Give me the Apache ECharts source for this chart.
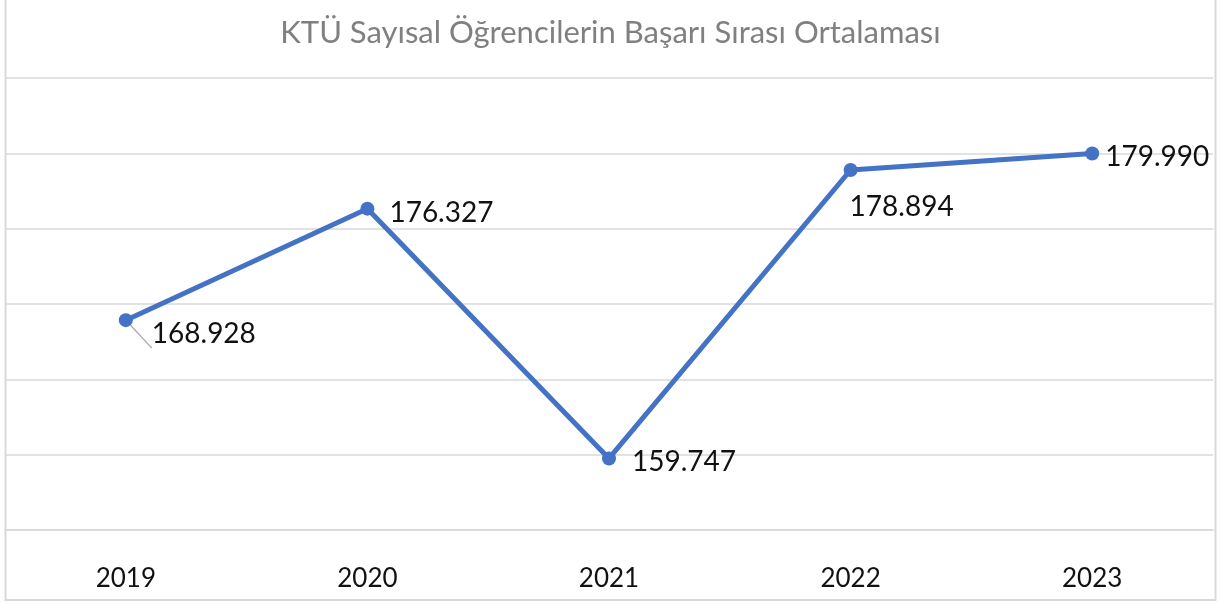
<!DOCTYPE html>
<html><head><meta charset="utf-8">
<script src="https://cdn.jsdelivr.net/npm/echarts@6/dist/echarts.min.js"></script>
<style>html,body{margin:0;padding:0;background:#fff}#c{width:1221px;height:604px}</style>
</head><body><div id="c"></div>
<script>
const titleText = 'KTÜ Sayısal Öğrencilerin Başarı Sırası Ortalaması';
const years = ['2019', '2020', '2021', '2022', '2023'];
const ranks = [168928, 176327, 159747, 178894, 179990];
const yMin = 155000, yMax = 185000, yStep = 5000;

const labelOffsets = [[11, 14], [7, 4], [8, 3], [-16, 37], [-2, 3]];
const fmt = v => {
  const s = String(v);
  return s.slice(0, s.length - 3) + '.' + s.slice(-3);
};
const font = 'Lato, "Open Sans", sans-serif';
const chart = echarts.init(document.getElementById('c'));
chart.setOption({
  animation: false,
  title: {
    text: titleText, left: 'center', top: 12,
    textStyle: { fontFamily: font, fontSize: 31, fontWeight: 'normal', color: '#808080' }
  },
  graphic: [{
    type: 'rect', shape: { x: 5.5, y: -2, width: 1210, height: 602 },
    style: { fill: 'none', stroke: '#d9d9d9', lineWidth: 2 }, silent: true
  }],
  grid: { left: 5, right: 8, top: 78, bottom: 74 },
  xAxis: {
    type: 'category', data: years, boundaryGap: true,
    axisLine: { show: true, lineStyle: { color: '#d9d9d9', width: 1.5 } },
    axisTick: { show: false },
    axisLabel: { fontFamily: font, fontSize: 26, color: '#111', margin: 36 }
  },
  yAxis: {
    type: 'value', min: yMin, max: yMax, interval: yStep,
    axisLabel: { show: false }, axisLine: { show: false }, axisTick: { show: false },
    splitLine: { lineStyle: { color: '#d9d9d9', width: 1.5 } }
  },
  series: [{
    type: 'line', data: ranks.map((v, i) => ({
      value: v,
      label: { offset: labelOffsets[i] },
      labelLine: { show: i === 0, lineStyle: { color: '#a6a6a6', width: 1.2 } }
    })),
    symbol: 'circle', symbolSize: 14,
    lineStyle: { color: '#4472C4', width: 5 },
    itemStyle: { color: '#4472C4' },
    label: {
      show: true, position: 'right', distance: 8,
      fontFamily: font, fontSize: 28, color: '#111',
      formatter: p => fmt(p.value)
    }
  }]
});
</script></body></html>
